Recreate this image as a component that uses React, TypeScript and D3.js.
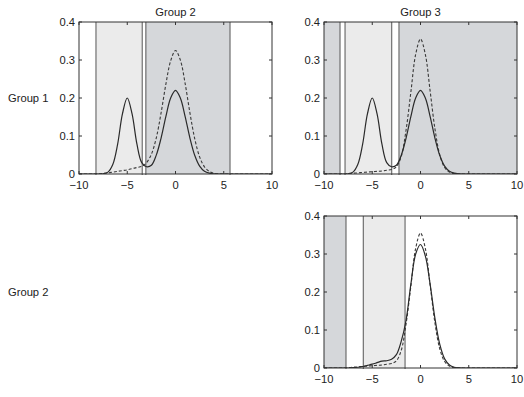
import React from "react";
import * as d3 from "d3";

// density grid, step 0.5 from -10 to 10
const xGrid = [
  -10, -9.5, -9, -8.5, -8, -7.5, -7, -6.5, -6, -5.5, -5, -4.5, -4, -3.5, -3, -2.5, -2, -1.5, -1, -0.5,
  0, 0.5, 1, 1.5, 2, 2.5, 3, 3.5, 4, 4.5, 5, 5.5, 6, 6.5, 7, 7.5, 8, 8.5, 9, 9.5, 10,
];

// estimated densities for each group
const densityG1 = [
  0, 0, 0, 0, 0, 0.0006, 0.005, 0.025, 0.078, 0.158, 0.2, 0.158, 0.079, 0.03, 0.019, 0.023, 0.049, 0.094, 0.151, 0.2,
  0.22, 0.2, 0.151, 0.094, 0.0485, 0.0207, 0.0073, 0.0021, 0.0005, 0, 0, 0, 0, 0, 0, 0, 0, 0, 0, 0, 0,
];
const densityG2 = [
  0, 0, 0, 0, 0.0005, 0.0015, 0.003, 0.005, 0.007, 0.009, 0.011, 0.014, 0.017, 0.02, 0.03, 0.052, 0.094, 0.16, 0.236, 0.298,
  0.325, 0.3, 0.238, 0.16, 0.092, 0.045, 0.019, 0.007, 0.002, 0.0005, 0, 0, 0, 0, 0, 0, 0, 0, 0, 0, 0,
];
// second estimate of group 2, used against group 3
const densityG2b = [
  0, 0, 0, 0, 0, 0, 0.001, 0.002, 0.004, 0.007, 0.01, 0.014, 0.018, 0.019, 0.023, 0.035, 0.07, 0.125, 0.22, 0.3,
  0.325, 0.295, 0.22, 0.13, 0.062, 0.024, 0.008, 0.002, 0.0005, 0, 0, 0, 0, 0, 0, 0, 0, 0, 0, 0, 0,
];
const densityG3 = [
  0, 0, 0, 0, 0, 0.001, 0.002, 0.003, 0.004, 0.005, 0.006, 0.007, 0.008, 0.01, 0.012, 0.019, 0.046, 0.115, 0.215, 0.315,
  0.355, 0.315, 0.218, 0.118, 0.05, 0.017, 0.005, 0.0012, 0.0002, 0, 0, 0, 0, 0, 0, 0, 0, 0, 0, 0, 0,
];

// shaded intervals: [from, to, tone]
const regionsG1G2: [number, number, string][] = [
  [-8.24, -3.45, "light"],
  [-3.07, 5.65, "dark"],
];
const regionsG1G3: [number, number, string][] = [
  [-10, -8.34, "dark"],
  [-7.82, -2.98, "light"],
  [-2.23, 10, "dark"],
];
const regionsG2G3: [number, number, string][] = [
  [-10, -7.72, "dark"],
  [-5.93, -1.6, "light"],
];

const xTicks = [-10, -5, 0, 5, 10];
const yTicks = [0, 0.1, 0.2, 0.3, 0.4];
const columnTitles = ["Group 2", "Group 3"];
const rowTitles = ["Group 1", "Group 2"];

const PW = 193;
const PH = 152;
const FONT = "'Liberation Sans', Arial, Helvetica, sans-serif";
const FS = 11.2;
const toneFill: Record<string, string> = { light: "#ebebeb", dark: "#d5d7da" };

const fmtX = (v: number) => (v < 0 ? "\u2212" + Math.abs(v) : String(v));

type PanelProps = {
  id: string;
  left: number;
  top: number;
  solid: number[];
  dashed: number[];
  regions: [number, number, string][];
  title?: string;
};

function Panel({ id, left, top, solid, dashed, regions, title }: PanelProps) {
  const x = d3.scaleLinear().domain([-10, 10]).range([left, left + PW]);
  const y = d3.scaleLinear().domain([0, 0.4]).range([top + PH, top]);
  const line = d3
    .line<number>()
    .x((_, i) => x(xGrid[i]))
    .y((d) => y(d))
    .curve(d3.curveCatmullRom.alpha(0.5));
  const tick = 3;
  return (
    <g>
      <defs>
        <clipPath id={"clip-" + id}>
          <rect x={left} y={top} width={PW} height={PH} />
        </clipPath>
      </defs>
      {regions.map(([a, b, tone], i) => (
        <rect key={"r" + i} x={x(a)} y={top} width={x(b) - x(a)} height={PH} fill={toneFill[tone]} />
      ))}
      {regions.map(([a, b], i) => (
        <g key={"e" + i} stroke="#555" strokeWidth={1}>
          {a > -10 && <line x1={x(a)} x2={x(a)} y1={top} y2={top + PH + 1} />}
          {b < 10 && <line x1={x(b)} x2={x(b)} y1={top} y2={top + PH + 1} />}
        </g>
      ))}
      <g clipPath={`url(#clip-${id})`} fill="none">
        <path d={line(dashed) || ""} stroke="#3a3a3a" strokeWidth={1.1} strokeDasharray="3,2" />
        <path d={line(solid) || ""} stroke="#2a2a2a" strokeWidth={1.2} />
      </g>
      <rect x={left} y={top} width={PW} height={PH} fill="none" stroke="#333" strokeWidth={1} />
      {xTicks.map((t) => (
        <g key={"xt" + t} stroke="#333">
          <line x1={x(t)} x2={x(t)} y1={top + PH} y2={top + PH - tick} />
          <line x1={x(t)} x2={x(t)} y1={top} y2={top + tick} />
        </g>
      ))}
      {yTicks.map((t) => (
        <g key={"yt" + t} stroke="#333">
          <line x1={left} x2={left + tick} y1={y(t)} y2={y(t)} />
          <line x1={left + PW} x2={left + PW - tick} y1={y(t)} y2={y(t)} />
        </g>
      ))}
      <g fontFamily={FONT} fontSize={FS} fill="#222">
        {xTicks.map((t) => (
          <text key={"xl" + t} x={x(t)} y={top + PH + 15} textAnchor="middle">
            {fmtX(t)}
          </text>
        ))}
        {yTicks.map((t) => (
          <text key={"yl" + t} x={left - 4} y={y(t) + 3.5} textAnchor="end">
            {t === 0 ? "0" : t.toFixed(1)}
          </text>
        ))}
        {title && (
          <text x={left + PW / 2} y={top - 6} textAnchor="middle">
            {title}
          </text>
        )}
      </g>
    </g>
  );
}

export default function App() {
  return (
    <svg
      width={524}
      height={397}
      style={{ position: "absolute", left: 0, top: 0, background: "#fff" }}
    >
      <Panel id="a" left={79} top={22} solid={densityG1} dashed={densityG2} regions={regionsG1G2} title={columnTitles[0]} />
      <Panel id="b" left={324} top={22} solid={densityG1} dashed={densityG3} regions={regionsG1G3} title={columnTitles[1]} />
      <Panel id="c" left={324} top={216} solid={densityG2b} dashed={densityG3} regions={regionsG2G3} />
      <g fontFamily={FONT} fontSize={FS} fill="#222">
        <text x={8} y={102}>{rowTitles[0]}</text>
        <text x={8} y={296}>{rowTitles[1]}</text>
      </g>
    </svg>
  );
}
